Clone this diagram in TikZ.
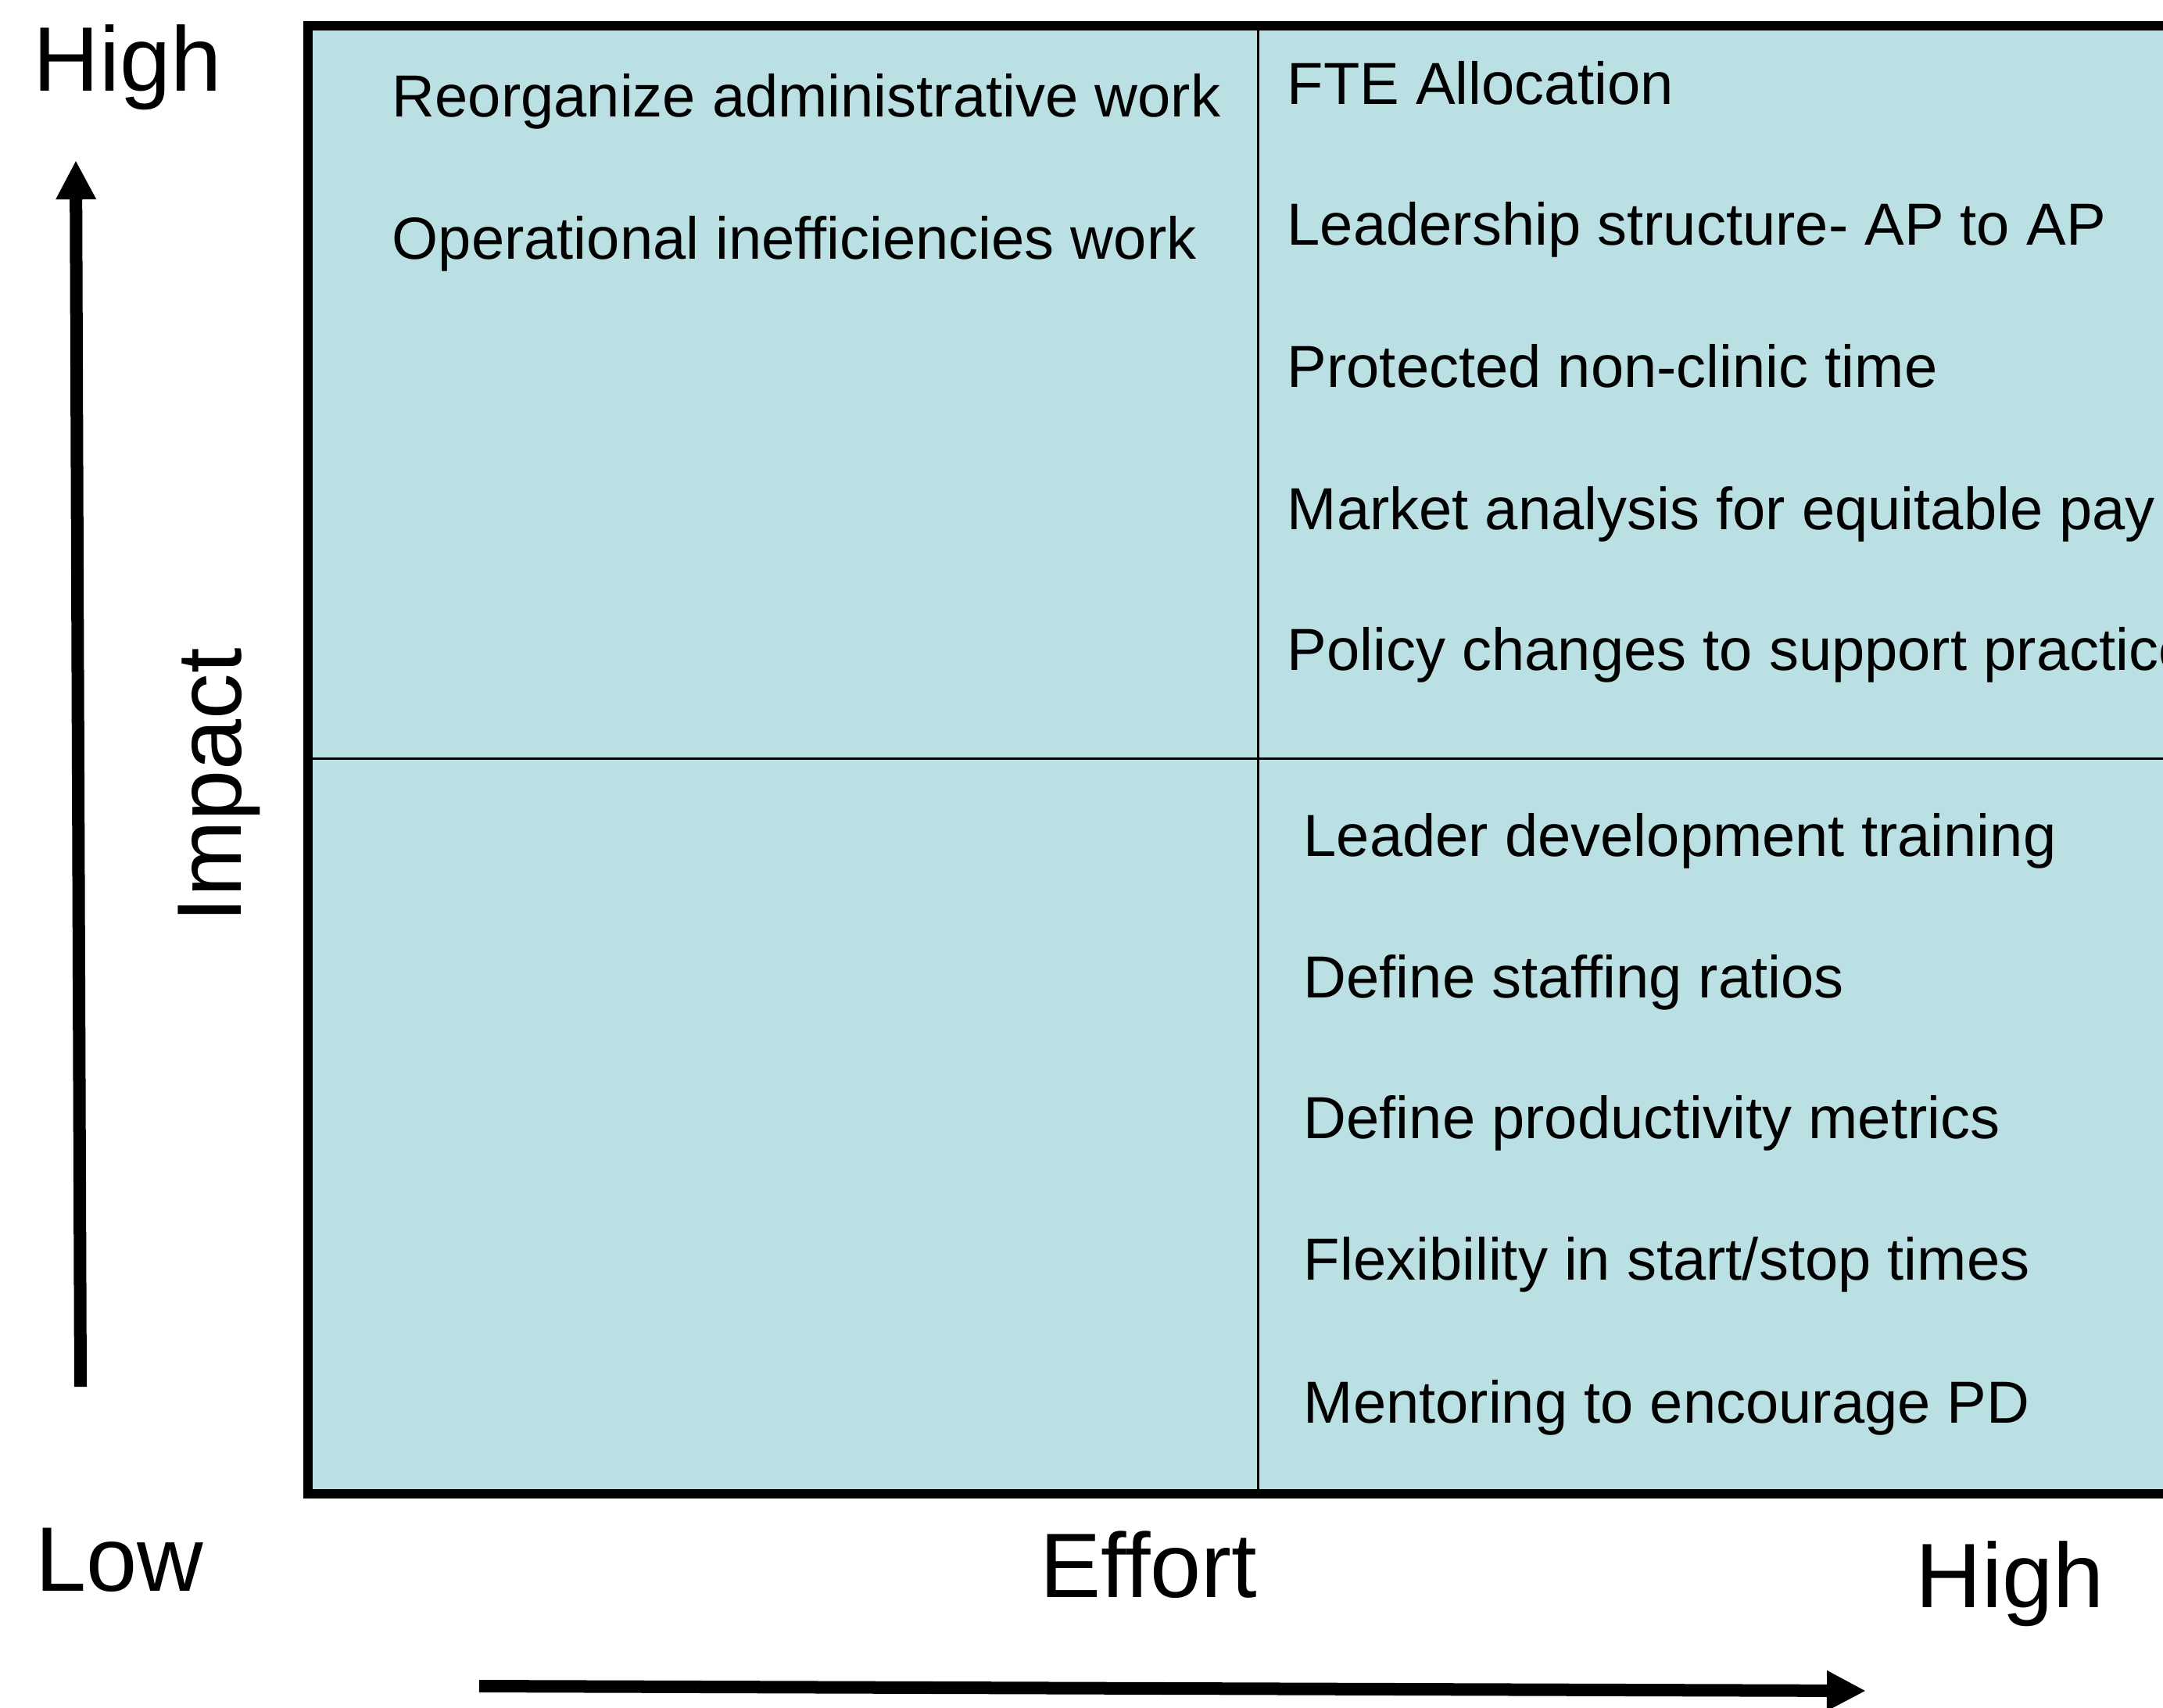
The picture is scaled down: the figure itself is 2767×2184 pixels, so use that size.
\documentclass[tikz,border=0pt]{standalone}
\usepackage{fontspec}
\setmainfont{Liberation Sans}
\usetikzlibrary{arrows.meta}
\definecolor{quadfill}{RGB}{187,224,227}
\newcommand\itemfont{\fontsize{21.6pt}{26pt}\selectfont}
\newcommand\axisfont{\fontsize{33.3pt}{40pt}\selectfont}
\tikzset{
  entry/.style={anchor=base west, inner sep=0pt, font=\itemfont},
  axislabel/.style={anchor=base west, inner sep=0pt, font=\axisfont},
  axisarrow/.style={line width=0.16cm, -{Triangle[length=0.5cm,width=0.48cm]}},
  frame/.style={line width=0.12cm},
  divider/.style={line width=0.03cm},
}
\begin{document}
\begin{tikzpicture}[x=0.01cm, y=-0.01cm]
\useasboundingbox (0,0) rectangle (2767,2184);
\clip (0,0) rectangle (2767,2184);

% quadrant field, open to the right
\fill[quadfill] (394,33) rectangle (2800,1911);
\draw[divider] (1609,33) -- (1609,1911);
\draw[divider] (394,970) -- (2800,970);
\draw[frame] (2800,33) -- (394,33) -- (394,1911) -- (2800,1911);

% upper left quadrant
\node[entry] (ul1) at (501,149) {Reorganize administrative work};
\node[entry] (ul2) at (501,331) {Operational inefficiencies work};

% upper right quadrant
\node[entry] (ur1) at (1646,133) {FTE Allocation};
\node[entry] (ur2) at (1646,313) {Leadership structure- AP to AP};
\node[entry] (ur3) at (1646,495) {Protected non-clinic time};
\node[entry] (ur4) at (1646,677) {Market analysis for equitable pay};
\node[entry] (ur5) at (1646,857) {Policy changes to support practice};

% lower right quadrant
\node[entry] (lr1) at (1667,1095) {Leader development training};
\node[entry] (lr2) at (1667,1276) {Define staffing ratios};
\node[entry] (lr3) at (1667,1456) {Define productivity metrics};
\node[entry] (lr4) at (1667,1637) {Flexibility in start/stop times};
\node[entry] (lr5) at (1667,1820) {Mentoring to encourage PD};

% axis labels
\node[axislabel] (yhigh) at (42,116) {High};
\node[axislabel] (ylow) at (45,2035) {Low};
\node[axislabel] (xname) at (1330,2043) {Effort};
\node[axislabel] (xhigh) at (2450,2056) {High};
\node[axislabel, rotate=90] (yname) at (308,1181) {Impact};

% axis arrows
\coordinate (ystart) at (103,1774);
\coordinate (yend) at (97,205);
\coordinate (xstart) at (613,2157);
\coordinate (xend) at (2387,2163);
\draw[axisarrow] (ystart) -- (yend);
\draw[axisarrow] (xstart) -- (xend);
\end{tikzpicture}
\end{document}
